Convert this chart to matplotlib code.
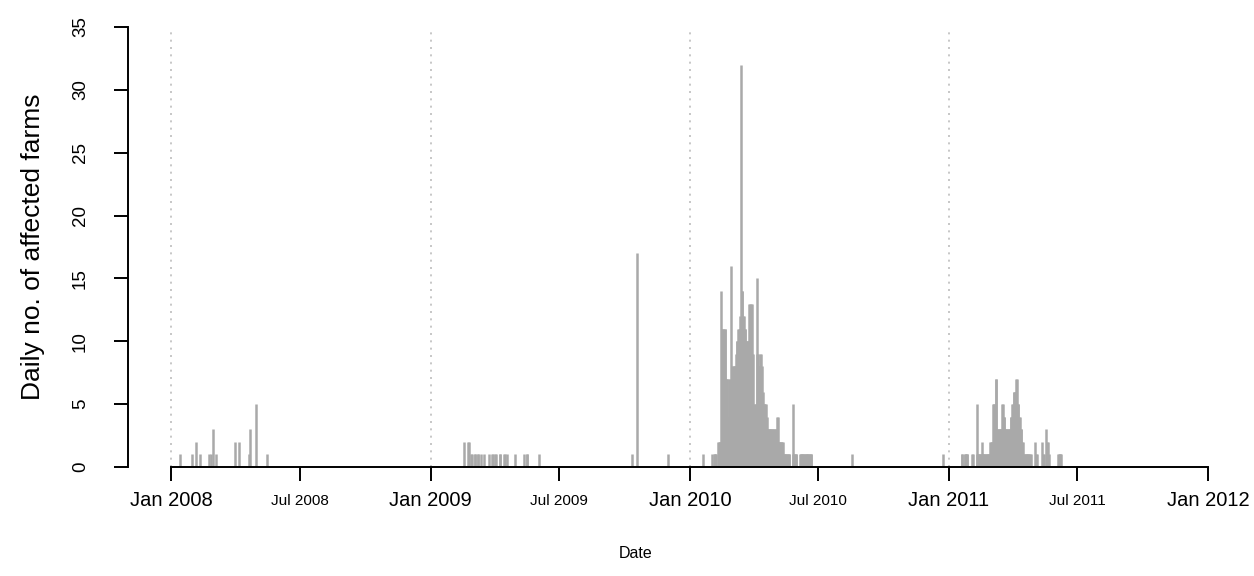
import matplotlib
matplotlib.use("Agg")
import matplotlib.pyplot as plt
import matplotlib.dates as mdates
import numpy as np
import pandas as pd

plt.rcParams['font.family'] = ['Liberation Sans', 'DejaVu Sans']

# ---------------- data ----------------
# isolated reports (date, number of affected farms)
sparse_dates = [
    "2008-01-14", "2008-01-30", "2008-02-05", "2008-02-11", "2008-02-24", "2008-02-26",
    "2008-02-29", "2008-03-05", "2008-03-31", "2008-04-06", "2008-04-20", "2008-04-22",
    "2008-04-30", "2008-05-15",
    "2009-02-17", "2009-02-23", "2009-02-24", "2009-02-27", "2009-02-28", "2009-03-04",
    "2009-03-05", "2009-03-08", "2009-03-09", "2009-03-13", "2009-03-17", "2009-03-24",
    "2009-03-28", "2009-03-29", "2009-04-02", "2009-04-03", "2009-04-08", "2009-04-09",
    "2009-04-14", "2009-04-15", "2009-04-19", "2009-04-30", "2009-05-13", "2009-05-16",
    "2009-05-17", "2009-06-02", "2009-10-12", "2009-10-18", "2009-12-01",
    "2010-01-19", "2010-02-01", "2010-02-04", "2010-02-05", "2010-02-06", "2010-02-07",
    "2010-08-17", "2010-12-23",
]
sparse_counts = [
    1, 1, 2, 1, 1, 1,
    3, 1, 2, 2, 1, 3,
    5, 1,
    2, 2, 2, 1, 1, 1,
    1, 1, 1, 1, 1, 1,
    1, 1, 1, 1, 1, 1,
    1, 1, 1, 1, 1, 1,
    1, 1, 1, 17, 1,
    1, 1, 1, 1, 1, 1,
    1, 1,
]

# 2010 epidemic wave: daily counts starting 10 Feb 2010
wave2010_start = "2010-02-10"
wave2010_counts = [
    2, 2, 2, 2,
    14, 11, 11, 11, 10, 11, 11,
    7, 7, 7, 4, 7, 7, 6,
    16, 8, 7, 8, 8, 8, 8,
    9, 10, 10, 11, 11, 12, 11,
    32, 14, 14, 12, 12, 11, 11,
    10, 10, 10, 10, 10, 13, 13,
    13, 13, 9, 9, 4, 5, 5,
    5, 15, 9, 9, 8, 8, 9,
    9, 8, 5, 6, 5, 5, 5,
    5, 4, 3, 3, 3, 3, 3,
    3, 3, 3, 3, 3, 3, 2,
    3, 3, 4, 4, 2, 2, 2,
    2, 2, 2, 2, 1, 1, 1,
    1, 1, 1, 1, 1, 1, 0,
    0, 0, 0, 5, 1, 1, 1,
    1, 1, 0, 0, 0, 0, 1,
    1, 1, 1, 1, 1, 1, 1,
    1, 1, 1, 1, 1, 1, 1,
    1, 1,
]

# 2011 epidemic wave: daily counts starting 19 Jan 2011
wave2011_start = "2011-01-19"
wave2011_counts = [
    1, 1, 0, 0, 1, 1, 1,
    1, 1, 0, 0, 0, 0, 0,
    0, 1, 1, 0, 0, 0, 0,
    5, 1, 1, 1, 1, 1, 1,
    2, 1, 1, 1, 1, 1, 1,
    1, 1, 1, 1, 1, 2, 2,
    2, 2, 5, 5, 5, 4, 7,
    7, 3, 3, 3, 3, 3, 3,
    3, 5, 5, 4, 4, 3, 3,
    3, 3, 3, 3, 3, 3, 4,
    4, 5, 5, 6, 6, 6, 6,
    7, 7, 5, 5, 4, 4, 3,
    3, 2, 2, 1, 1, 1, 1,
    1, 1, 1, 1, 1, 1, 1,
    0, 0, 0, 0, 0, 2, 0,
    1, 1, 0, 0, 0, 0, 0,
    0, 2, 0, 1, 1, 0, 0,
    3, 2, 2, 0, 1, 0, 0,
    0, 0, 0, 0, 0, 0, 0,
    0, 0, 0, 1, 1, 1, 1,
    1,
]

year_lines = ["2008-01-01", "2009-01-01", "2010-01-01", "2011-01-01"]
major_ticks = ["2008-01-01", "2009-01-01", "2010-01-01", "2011-01-01", "2012-01-01"]
major_labels = ["Jan 2008", "Jan 2009", "Jan 2010", "Jan 2011", "Jan 2012"]
minor_ticks = ["2008-07-01", "2009-07-01", "2010-07-01", "2011-07-01"]
minor_labels = ["Jul 2008", "Jul 2009", "Jul 2010", "Jul 2011"]
y_ticks = [0, 5, 10, 15, 20, 25, 30, 35]

# ---------------- assemble ----------------
d_all = list(pd.to_datetime(sparse_dates))
c_all = list(sparse_counts)
d_all += list(pd.date_range(wave2010_start, periods=len(wave2010_counts), freq="D"))
c_all += list(wave2010_counts)
d_all += list(pd.date_range(wave2011_start, periods=len(wave2011_counts), freq="D"))
c_all += list(wave2011_counts)
x_all = mdates.date2num(pd.to_datetime(d_all).to_pydatetime())
c_all = np.array(c_all, dtype=float)
mask = c_all > 0
x_all, c_all = x_all[mask], c_all[mask]

def dnum(lst):
    return mdates.date2num(pd.to_datetime(lst).to_pydatetime())

# ---------------- figure ----------------
W, H = 1254, 576
fig = plt.figure(figsize=(W / 100, H / 100), dpi=100)
ax_l, ax_r, ax_top, ax_bot = 128, 1215, 27, 467
ax = fig.add_axes([ax_l / W, (H - ax_bot) / H, (ax_r - ax_l) / W, (ax_bot - ax_top) / H])

x0, x1 = dnum(["2008-01-01", "2012-01-01"])
ppd = (1208 - 171) / (x1 - x0)
ax.set_xlim(x0 - (171 - ax_l) / ppd, x1 + (ax_r - 1208) / ppd)
ax.set_ylim(0, 35)

ax.vlines(dnum(year_lines), 0, 35, colors="#BDBDBD", linestyles=(0, (1.2, 3.2)), linewidth=1.2, zorder=1)
lc = ax.vlines(x_all, 0, c_all, colors="#A9A9A9", linewidth=1.8, zorder=2)
lc.set_capstyle("butt")

for s in ["top", "right"]:
    ax.spines[s].set_visible(False)
ax.spines["left"].set_bounds(0, 35)
ax.spines["bottom"].set_bounds(x0, x1)
for s in ["left", "bottom"]:
    ax.spines[s].set_linewidth(1.4)

ax.set_yticks(y_ticks)
ax.set_yticklabels([str(v) for v in y_ticks], rotation=90, va="center", fontsize=13.5)
ax.tick_params(axis="y", length=10, width=1.4, pad=18)

ax.set_xticks(dnum(major_ticks))
ax.set_xticklabels(major_labels, fontsize=14.5)
ax.set_xticks(dnum(minor_ticks), minor=True)
ax.set_xticklabels(minor_labels, minor=True, fontsize=11)
ax.tick_params(axis="x", which="major", length=10, width=1.4, pad=7)
ax.tick_params(axis="x", which="minor", length=10, width=1.4, pad=9.6)

fig.text(636 / W, 1 - 553 / H, "Date", ha="center", va="center", fontsize=11.5)
fig.text(33 / W, 1 - 247 / H, "Daily no. of affected farms", ha="center", va="center",
         rotation=90, fontsize=19)

fig.savefig("out.png", dpi=100)
